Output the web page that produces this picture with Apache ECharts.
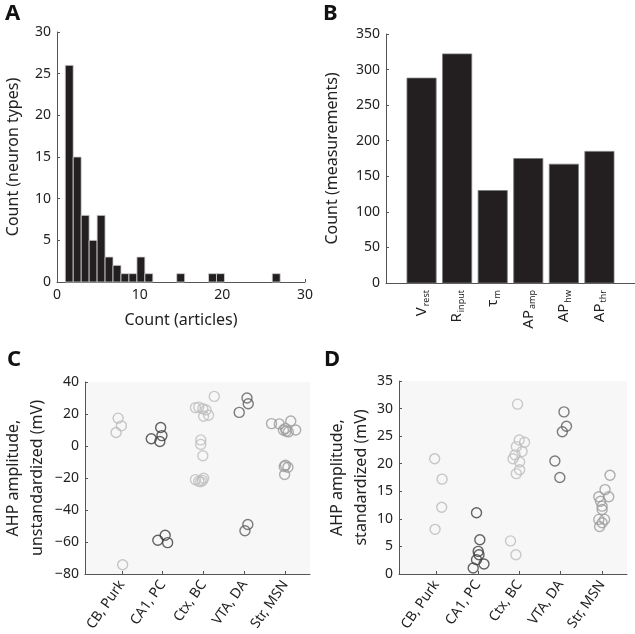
<!DOCTYPE html>
<html>
<head>
<meta charset="utf-8">
<script src="https://cdn.jsdelivr.net/npm/echarts@6/dist/echarts.min.js"></script>
<style>
  html, body { margin: 0; padding: 0; background: #fff; }
  #chart { width: 635px; height: 634px; }
</style>
</head>
<body>
<div id="chart"></div>
<script>
// A: histogram of articles per neuron type (27 bins between 1 and 27)
var histMin = 1;
var histMax = 27;
var histCounts = [26, 15, 8, 5, 8, 3, 2, 1, 1, 3, 1, 0, 0, 0, 1, 0, 0, 0, 1, 1, 0, 0, 0, 0, 0, 0, 1];

// B: measurements per property
var props = [['V', 'rest'], ['R', 'input'], ['τ', 'm'], ['AP', 'amp'], ['AP', 'hw'], ['AP', 'thr']];
var propCounts = [288, 322, 130, 175, 167, 185];

// C / D: neuron types (category position = index + 1)
var neuronTypes = ['CB, Purk', 'CA1, PC', 'Ctx, BC', 'VTA, DA', 'Str, MSN'];
var typeColors = ['#b9b9b9', '#3c3c3c', '#bdbdbd', '#5c5c5c', '#9b9b9b'];

// C: unstandardized AHP amplitude, [jittered x, mV]
var cbPurkC = [[0.91, 17.4], [0.99, 12.6], [0.86, 8.4], [1.02, -74.2]];
var ca1C = [[1.95, 11.6], [1.98, 6.5], [1.72, 4.5], [1.93, 2.8], [2.06, -55.8], [1.88, -58.9], [2.12, -60.4]];
var ctxC = [[3.26, 31.0], [2.80, 24.0], [2.88, 24.3], [2.98, 23.3], [3.06, 22.5], [3.00, 18.6], [3.12, 19.2],
  [2.93, 3.8], [2.93, 1.0], [2.98, -6.1], [2.80, -21.0], [2.93, -22.4], [3.00, -20.2], [2.97, -21.5], [2.88, -22.0]];
var vtaC = [[4.06, 30.0], [4.09, 26.4], [3.87, 21.0], [4.08, -49.1], [4.01, -53.0]];
var strC = [[4.66, 14.0], [4.85, 13.8], [5.13, 15.6], [4.95, 10.0], [5.02, 9.3], [5.07, 8.8], [5.25, 10.0], [5.00, 11.0],
  [5.00, -12.0], [5.06, -13.3], [4.97, -12.8], [4.98, -17.8]];

// D: standardized AHP amplitude, [jittered x, mV]
var cbPurkD = [[0.96, 20.9], [1.14, 17.2], [1.13, 12.1], [0.97, 8.1]];
var ca1D = [[1.97, 11.1], [2.05, 6.2], [2.01, 4.1], [2.03, 3.5], [1.97, 2.6], [2.15, 1.8], [1.89, 1.1]];
var ctxD = [[2.96, 30.8], [3.00, 24.3], [3.13, 23.9], [2.93, 23.1], [3.07, 22.2], [2.90, 21.6], [2.85, 20.9],
  [3.01, 20.3], [3.01, 18.9], [2.93, 18.2], [2.79, 6.0], [2.92, 3.5]];
var vtaD = [[4.08, 29.4], [4.14, 26.8], [4.04, 25.8], [3.86, 20.5], [3.98, 17.5]];
var strD = [[5.19, 17.9], [5.07, 15.3], [4.92, 14.0], [5.16, 14.0], [4.96, 13.2], [5.00, 12.3], [5.00, 11.7],
  [4.92, 9.9], [5.06, 9.9], [5.00, 9.3], [4.94, 8.6]];

var FONT = 'Noto Sans';
var AXIS_COLOR = '#555';
var BAR_COLOR = '#231f20';

var histWidth = (histMax - histMin) / histCounts.length;
var histData = [];
histCounts.forEach(function (c, i) {
  if (c > 0) histData.push([histMin + i * histWidth, histMin + (i + 1) * histWidth, c]);
});
var propData = propCounts.map(function (c, i) { return [i + 1, c]; });

function valueAxis(grid, min, max, interval, extra) {
  var ax = {
    type: 'value', gridIndex: grid, min: min, max: max, interval: interval,
    axisLine: { show: true, onZero: false, lineStyle: { color: AXIS_COLOR, width: 1 } },
    axisTick: { show: true, inside: true, length: 3, lineStyle: { color: AXIS_COLOR } },
    axisLabel: {
      color: '#222', fontSize: 14, fontFamily: FONT, margin: 6,
      formatter: function (v) { return String(v).replace('-', '\u2212'); }
    },
    splitLine: { show: false },
    nameTextStyle: { color: '#222', fontSize: 16, fontFamily: FONT }
  };
  for (var k in extra) ax[k] = extra[k];
  return ax;
}

function scatter(name, data, color, axis) {
  return {
    type: 'scatter', name: name, data: data, xAxisIndex: axis, yAxisIndex: axis,
    symbol: 'circle', symbolSize: 10,
    itemStyle: { color: 'rgba(0,0,0,0)', borderColor: color, borderWidth: 1.4 },
    silent: true
  };
}

var typeTicks = [1, 2, 3, 4, 5];
function typeAxis(grid) {
  return valueAxis(grid, 0.1, 5.6, 1, {
    axisTick: { show: true, inside: true, length: 3, customValues: typeTicks, lineStyle: { color: AXIS_COLOR } },
    axisLabel: {
      customValues: typeTicks, rotate: 55, margin: 8, color: '#222', fontSize: 14, fontFamily: FONT,
      formatter: function (v) { return neuronTypes[Math.round(v) - 1]; }
    }
  });
}

var chart = echarts.init(document.getElementById('chart'));
chart.setOption({
  animation: false,
  title: [
    { text: 'A', left: 0, top: -2, textStyle: { fontSize: 22, fontWeight: 'bold', fontFamily: FONT, color: '#111' } },
    { text: 'B', left: 318, top: -2, textStyle: { fontSize: 22, fontWeight: 'bold', fontFamily: FONT, color: '#111' } },
    { text: 'C', left: 2, top: 344, textStyle: { fontSize: 22, fontWeight: 'bold', fontFamily: FONT, color: '#111' } },
    { text: 'D', left: 319, top: 344, textStyle: { fontSize: 22, fontWeight: 'bold', fontFamily: FONT, color: '#111' } }
  ],
  grid: [
    { left: 57, top: 32, width: 248, height: 250 },
    { left: 386, top: 34, width: 249, height: 249 },
    { left: 82, top: 382, width: 228, height: 196, show: true, backgroundColor: '#f7f7f7', borderWidth: 0 },
    { left: 399, top: 381, width: 228, height: 197, show: true, backgroundColor: '#f7f7f7', borderWidth: 0 }
  ],
  xAxis: [
    valueAxis(0, 0, 30, 10, { name: 'Count (articles)', nameLocation: 'middle', nameGap: 30 }),
    valueAxis(1, 0, 7, 1, {
      axisTick: { show: true, inside: true, length: 3, customValues: [1, 2, 3, 4, 5, 6], lineStyle: { color: AXIS_COLOR } },
      axisLabel: {
        customValues: [1, 2, 3, 4, 5, 6], rotate: 90, margin: 7, color: '#222', fontFamily: FONT,
        formatter: function (v) {
          var p = props[Math.round(v) - 1];
          return '{m|' + p[0] + '}{s|' + p[1] + '}';
        },
        rich: {
          m: { fontSize: 15, fontFamily: FONT, color: '#222', lineHeight: 18 },
          s: { fontSize: 9, fontFamily: FONT, color: '#222', lineHeight: 10, verticalAlign: 'bottom', padding: [6, 0, 0, 1] }
        }
      }
    }),
    typeAxis(2),
    typeAxis(3)
  ],
  yAxis: [
    valueAxis(0, 0, 30, 5, { name: 'Count (neuron types)', nameLocation: 'middle', nameGap: 36 }),
    valueAxis(1, 0, 350, 50, { name: 'Count (measurements)', nameLocation: 'middle', nameGap: 46 }),
    valueAxis(2, -80, 40, 20, {
      name: 'AHP amplitude,\nunstandardized (mV)', nameLocation: 'middle', nameGap: 36,
      nameTextStyle: { color: '#222', fontSize: 16, fontFamily: FONT, lineHeight: 24 }
    }),
    valueAxis(3, 0, 35, 5, {
      name: 'AHP amplitude,\nstandardized (mV)', nameLocation: 'middle', nameGap: 26,
      nameTextStyle: { color: '#222', fontSize: 16, fontFamily: FONT, lineHeight: 24 }
    })
  ],
  series: [
    {
      type: 'custom', xAxisIndex: 0, yAxisIndex: 0, data: histData, silent: true,
      encode: { x: [0, 1], y: 2 },
      renderItem: function (params, api) {
        var p0 = api.coord([api.value(0), api.value(2)]);
        var p1 = api.coord([api.value(1), 0]);
        return {
          type: 'rect',
          shape: { x: p0[0], y: p0[1], width: p1[0] - p0[0], height: p1[1] - p0[1] },
          style: { fill: BAR_COLOR, stroke: '#d0d0d0', lineWidth: 0.8 }
        };
      }
    },
    {
      type: 'custom', xAxisIndex: 1, yAxisIndex: 1, data: propData, silent: true,
      encode: { x: 0, y: 1 },
      renderItem: function (params, api) {
        var x = api.value(0);
        var p0 = api.coord([x - 0.41, api.value(1)]);
        var p1 = api.coord([x + 0.41, 0]);
        return {
          type: 'rect',
          shape: { x: p0[0], y: p0[1], width: p1[0] - p0[0], height: p1[1] - p0[1] },
          style: { fill: BAR_COLOR, stroke: '#777', lineWidth: 0.8 }
        };
      }
    },
    scatter(neuronTypes[0], cbPurkC, typeColors[0], 2),
    scatter(neuronTypes[1], ca1C, typeColors[1], 2),
    scatter(neuronTypes[2], ctxC, typeColors[2], 2),
    scatter(neuronTypes[3], vtaC, typeColors[3], 2),
    scatter(neuronTypes[4], strC, typeColors[4], 2),
    scatter(neuronTypes[0], cbPurkD, typeColors[0], 3),
    scatter(neuronTypes[1], ca1D, typeColors[1], 3),
    scatter(neuronTypes[2], ctxD, typeColors[2], 3),
    scatter(neuronTypes[3], vtaD, typeColors[3], 3),
    scatter(neuronTypes[4], strD, typeColors[4], 3)
  ]
});
</script>
</body>
</html>
